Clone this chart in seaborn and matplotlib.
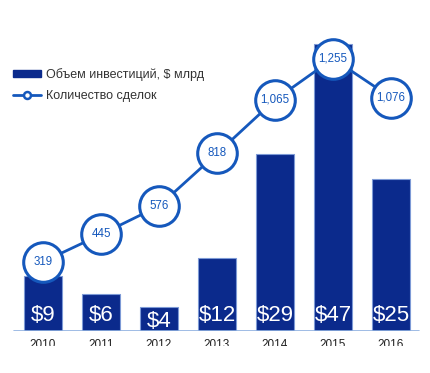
import numpy as np
import pandas as pd
import seaborn as sns
import matplotlib.pyplot as plt
from matplotlib.patches import Rectangle
from matplotlib.lines import Line2D
from matplotlib.patches import Patch

years = ["2010", "2011", "2012", "2013", "2014", "2015", "2016"]
invest = [9, 6, 4, 12, 29, 47, 25]
deals = [319, 445, 576, 818, 1065, 1255, 1076]

bar_label = "Объем инвестиций, $ млрд"
line_label = "Количество сделок"

navy = "#0B2A8C"
blue = "#1558BC"

sns.set_theme(style="white")
plt.rcParams["font.family"] = ["Liberation Sans", "DejaVu Sans"]

fig = plt.figure(figsize=(4.30, 3.73), dpi=100)
ax = fig.add_axes([0.0, 42 / 373, 1.0, 331 / 373])

df = pd.DataFrame({"year": years, "invest": invest, "deals": deals})
sns.barplot(data=df, x="year", y="invest", color=navy, saturation=1,
            width=0.67, edgecolor="#7D9AD6", linewidth=0.8, ax=ax)

# axis geometry
ax.set_xlim(-0.5 - 14 / 58, 6.5 + 10 / 58)
ax.set_ylim(0, 331 / 6.1)
for s in ax.spines.values():
    s.set_visible(False)
ax.axhline(0, xmin=14 / 430, xmax=419 / 430, color="#8FB0E0", lw=1.2, zorder=3)
ax.set_yticks([])
ax.set_xlabel("")
ax.set_ylabel("")
ax.tick_params(axis="x", length=0, pad=6, labelsize=8.5, labelcolor="#222222")

# $ labels inside bars
for i, v in enumerate(invest):
    ypos = min(2.6, v - 2.5)
    ax.text(i, ypos, f"${v}", color="white", ha="center", va="center",
            fontsize=16, zorder=4)

# deals line on twin axis
ax2 = ax.twinx()
ax2.set_ylim(0, 331 / 0.217)
sns.lineplot(x=np.arange(len(years)), y=deals, color=blue, lw=2,
             marker="o", markersize=28.5, markerfacecolor="white",
             markeredgecolor=blue, markeredgewidth=2.2, ax=ax2)
for i, d in enumerate(deals):
    ax2.text(i, d, f"{d:,}", color=blue, ha="center", va="center",
             fontsize=8.3, zorder=5)
ax2.set_yticks([])
for s in ax2.spines.values():
    s.set_visible(False)

handles = [Patch(facecolor=navy, edgecolor=navy),
           Line2D([0], [0], color=blue, lw=2, marker="o", markersize=5,
                  markerfacecolor="white", markeredgecolor=blue, markeredgewidth=1.8)]
leg = fig.legend(handles, [bar_label, line_label], loc="upper left",
                 bbox_to_anchor=(2 / 430, 1 - 57 / 373), frameon=False,
                 fontsize=9, handlelength=2.2, handleheight=0.5,
                 labelspacing=0.7, handletextpad=0.45)
for t in leg.get_texts():
    t.set_color("#333333")

# year labels are cut off at the bottom in the original
fig.patches.append(Rectangle((0, 0), 1, 27 / 373, transform=fig.transFigure,
                             facecolor="white", edgecolor="none", zorder=10))

fig.savefig("out.png", dpi=100)
